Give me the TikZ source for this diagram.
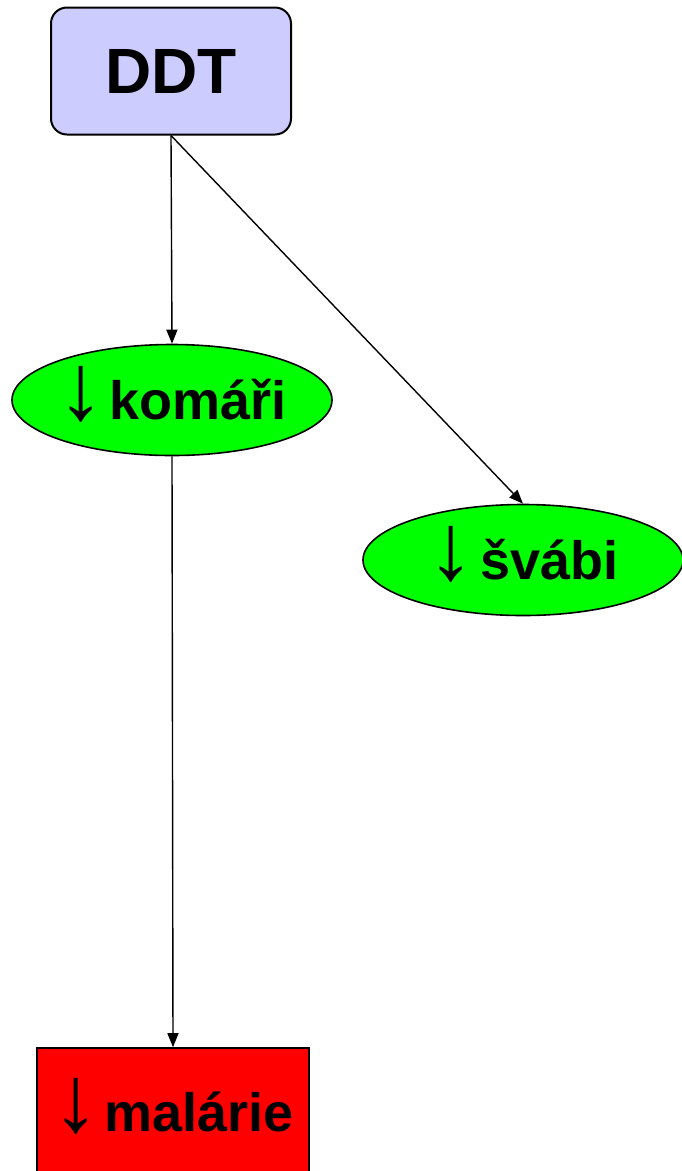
\documentclass[tikz,border=0pt]{standalone}
\usepackage{fontspec}
\usepackage{graphicx}
\setmainfont{Liberation Sans}
\usetikzlibrary{arrows.meta,positioning,shapes.geometric}
\newfontfamily\arrowfont{Liberation Sans}
\definecolor{ddtC}{RGB}{204,204,255}
\definecolor{pestC}{RGB}{0,255,0}
\definecolor{effectC}{RGB}{255,0,0}
\tikzset{
    link/.style    = {-{Triangle[length=14pt,width=11pt]}, line width=1.4pt, draw=black},
    ddtbox/.style  = {draw=black, line width=2pt, fill=ddtC,
            minimum width=240pt, minimum height=127pt,
            rounded corners=16pt, font=\bfseries\fontsize{64}{70}\selectfont},
    pest/.style    = {ellipse, draw=black, line width=1.6pt, fill=pestC,
            minimum width=320pt, minimum height=111pt, inner ysep=0pt, inner xsep=-12pt,
            font=\bfseries\fontsize{54}{60}\selectfont},
    effect/.style  = {rectangle, draw=black, line width=1.6pt, fill=effectC,
            minimum width=272pt, minimum height=128pt, inner sep=0pt,
            font=\bfseries\fontsize{54}{60}\selectfont},
}
% big arrow in front of the labels, kept out of the node height
\newcommand{\down}{\smash{\arrowfont\mdseries\fontsize{54}{60}\selectfont\scalebox{1.75}{\char"2193}}\hspace{5pt}}

\begin{document}
\begin{tikzpicture}[x=1pt,y=-1pt]
    \useasboundingbox (0,0) rectangle (681,1171);
    % cause
    \node[ddtbox] (ddt) at (171,71) {DDT};
    % direct effects
    \node[pest] (komari) at (172,400) {\down komáři};
    \node[pest] (svabi) at (523,560) {\down švábi};
    % indirect effect
    \node[effect] (malarie) at (173,1112) {\down malárie};
    % links
    \draw[link] (ddt.south) -- (komari.north);
    \draw[link] (ddt.south) -- (svabi.north);
    \draw[link] (komari.south) -- (malarie.north);
\end{tikzpicture}
\end{document}
